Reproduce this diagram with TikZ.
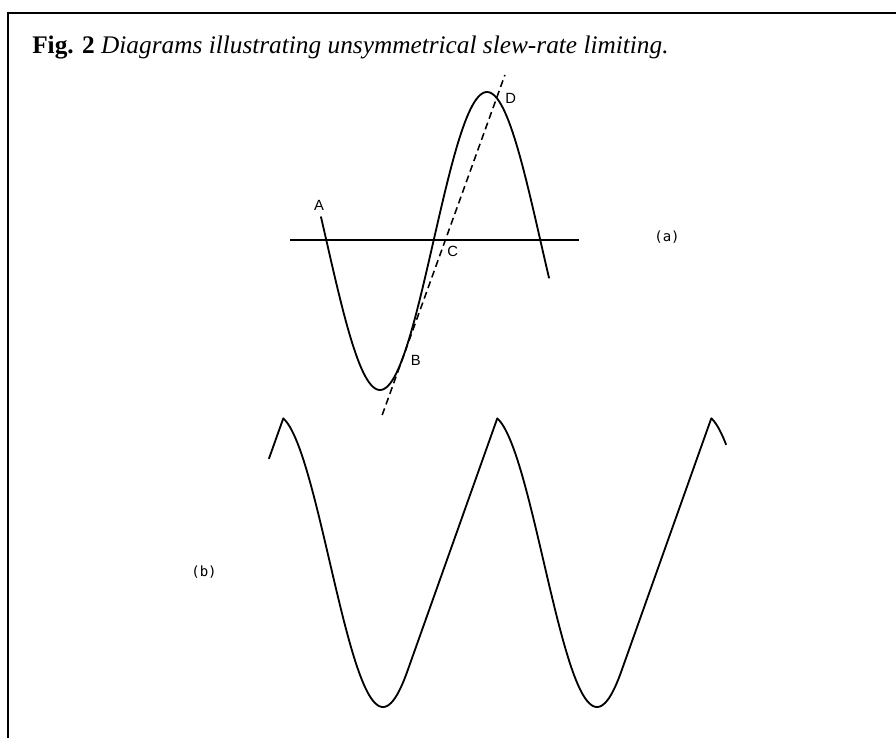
\documentclass[tikz,border=0pt]{standalone}
\usepackage{fontspec}
\setmainfont{Liberation Serif}
\setsansfont{Liberation Sans}
\setmonofont{DejaVu Sans Mono}
\usetikzlibrary{positioning}

\begin{document}
\begin{tikzpicture}[
    x=0.025cm, y=-0.025cm,
    wave/.style={line width=1.3pt, line join=round, line cap=round},
    tangent/.style={line width=1.1pt, dash pattern=on 5pt off 3pt},
    frameline/.style={line width=1.8pt},
    ptlabel/.style={font=\sffamily\fontsize{10.5}{12}\selectfont, inner sep=1pt},
    partlabel/.style={font=\ttfamily\fontsize{10}{12}\selectfont, inner sep=1pt}
]
\useasboundingbox (0,0) rectangle (896,738);

% Frame
\coordinate (frametl) at (8,13);
\coordinate (frametr) at (896,13);
\coordinate (framebl) at (8,738);
\draw[frameline] (framebl) -- (frametl) -- (frametr);

% Caption
\node[anchor=base west, inner sep=0pt, font=\fontsize{18}{22}\selectfont] (caption) at (32,53)
    {\textbf{Fig. 2} \textit{Diagrams illustrating unsymmetrical slew-rate limiting.}};

% (a) input sine, zero line and slew-rate tangent
\coordinate (axisl) at (290,240);
\coordinate (axisr) at (579,240);
\draw[line width=1.3pt] (axisl) -- (axisr);
\draw[wave] plot[domain=321:549, samples=120] (\x, {241+149*cos(1.6823*(\x-380))});
\coordinate (tanlo) at (382.2,415);
\coordinate (tanhi) at (504.9,75);
\draw[tangent] (tanlo) -- (tanhi);

\node[ptlabel] (ptA) at (319,205) {A};
\node[ptlabel] (ptB) at (415.7,360) {B};
\node[ptlabel] (ptC) at (452.7,251.7) {C};
\node[ptlabel] (ptD) at (510.7,98.3) {D};
\node[partlabel] (lblA) at (667,237) {(a)};

% (b) slew-limited output
\coordinate (start) at (269,458.5);
\coordinate (peak1) at (283.3,418.3);
\coordinate (peak2) at (497.3,418.3);
\coordinate (peak3) at (711.3,418.3);
\draw[wave] (start) -- (peak1)
    -- plot[domain=283.3:407.35, samples=80] (\x, {561+146*cos(1.6823*(\x-383))})
    -- (peak2)
    -- plot[domain=497.3:621.35, samples=80] (\x, {561+146*cos(1.6823*(\x-597))})
    -- (peak3)
    -- plot[domain=711.3:726, samples=20] (\x, {561+146*cos(1.6823*(\x-811))});

\node[partlabel] (lblB) at (204,572) {(b)};

\end{tikzpicture}
\end{document}
